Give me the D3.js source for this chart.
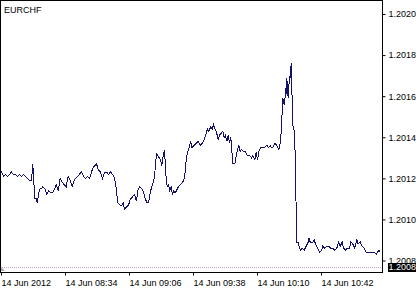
<!DOCTYPE html>
<html>
<head>
<meta charset="utf-8">
<script src="https://cdn.jsdelivr.net/npm/d3@7"></script>
<style>
  body { margin: 0; background: #fff; }
  svg text { font-family: "Liberation Sans", Arial, sans-serif; font-size: 9px; fill: #000; }
</style>
</head>
<body>
<div id="chart"></div>
<script>
// EURCHF M1 line, 14 Jun 2012

var symbol = "EURCHF";
var day = "2012-06-14";
var startTime = "08:02";

// minutes after startTime
var minutes = [
  -0.75, 0.25, 1.25, 2.25, 3.25, 4.25, 5.25, 6.25, 7.25, 8.25,
  9.25, 10.25, 11.25, 12.25, 13.25, 14.25, 15.25, 15.9, 16.9, 17.6,
  18.1, 18.9, 19.6, 20.25, 20.9, 21.9, 22.9, 23.9, 24.9, 25.9,
  26.9, 27.6, 28.6, 29.6, 30.6, 31.6, 32.6, 33.6, 34.6, 35.6,
  36.25, 37.25, 38.25, 39.25, 40.25, 41.25, 42.25, 43.25, 44.25, 45.25,
  45.9, 46.75, 47.75, 48.75, 49.75, 50.75, 51.75, 52.75, 53.75, 54.75,
  55.75, 56.75, 57.4, 58.4, 59.4, 60.4, 61.1, 61.75, 62.75, 63.75,
  64.75, 65.75, 66.75, 67.75, 68.4, 69.4, 70.4, 71.4, 72.1, 73.1,
  73.75, 74.4, 75.1, 76.1, 76.75, 77.75, 78.4, 79.1, 79.75, 80.4,
  81.1, 81.75, 82.4, 83.1, 83.75, 84.4, 85.1, 85.75, 86.4, 87.1,
  87.75, 88.75, 89.75, 90.75, 91.75, 92.4, 93.1, 94.1, 94.75, 95.5,
  96.6, 97.6, 98.6, 99.6, 100.6, 101.6, 102.6, 103.25, 103.9, 104.9,
  105.6, 106.25, 106.9, 107.6, 108.6, 109.25, 110.25, 110.9, 111.6, 112.25,
  112.9, 113.6, 114.25, 114.9, 115.6, 115.9, 116.9, 117.6, 118.25, 118.9,
  119.6, 120.25, 121.25, 122.25, 123.25, 124.25, 125.25, 125.9, 126.9, 127.6,
  128.25, 128.9, 129.9, 130.9, 131.9, 132.9, 133.9, 134.6, 135.25, 135.9,
  136.9, 137.9, 138.9, 139.6, 140.25, 140.6, 140.9, 141.25, 141.6, 141.9,
  142.25, 142.6, 142.9, 143.25, 143.6, 144.25, 144.6, 145.1, 145.4, 145.6,
  145.9, 146.6, 147.25, 147.6, 147.9, 148.6, 149.25, 149.9, 150.6, 151.6,
  152.6, 153.6, 153.9, 154.6, 155.25, 155.9, 156.6, 157.25, 158.25, 159.25,
  160.25, 160.9, 161.9, 162.9, 163.9, 164.9, 165.9, 166.9, 167.9, 168.9,
  169.6, 170.6, 171.25, 172.25, 173.25, 174.25, 174.9, 175.9, 176.9, 177.9,
  178.6, 179.6, 180.6, 181.6, 182.6, 183.6, 184.6, 185.6, 186.6, 187.6,
  188.25, 188.9, 189.6
];

var prices = [
  1.20122, 1.20123, 1.20121, 1.20122, 1.20121, 1.20122, 1.20123, 1.20122, 1.20122, 1.20121,
  1.20122, 1.20121, 1.20122, 1.20121, 1.20120, 1.20119, 1.20119, 1.20127, 1.20110, 1.20110,
  1.20108, 1.20113, 1.20115, 1.20115, 1.20116, 1.20115, 1.20112, 1.20114, 1.20113, 1.20113,
  1.20115, 1.20117, 1.20114, 1.20120, 1.20118, 1.20117, 1.20116, 1.20121, 1.20119, 1.20116,
  1.20118, 1.20120, 1.20121, 1.20122, 1.20123, 1.20121, 1.20120, 1.20121, 1.20120, 1.20123,
  1.20125, 1.20126, 1.20127, 1.20124, 1.20123, 1.20120, 1.20123, 1.20123, 1.20122, 1.20123,
  1.20122, 1.20120, 1.20117, 1.20108, 1.20107, 1.20107, 1.20108, 1.20105, 1.20106, 1.20107,
  1.20110, 1.20111, 1.20112, 1.20109, 1.20114, 1.20116, 1.20115, 1.20113, 1.20110, 1.20108,
  1.20108, 1.20112, 1.20115, 1.20118, 1.20121, 1.20132, 1.20131, 1.20130, 1.20129, 1.20126,
  1.20131, 1.20134, 1.20122, 1.20116, 1.20117, 1.20114, 1.20116, 1.20112, 1.20114, 1.20113,
  1.20114, 1.20116, 1.20117, 1.20118, 1.20120, 1.20127, 1.20132, 1.20135, 1.20138, 1.20135,
  1.20136, 1.20137, 1.20138, 1.20136, 1.20137, 1.20139, 1.20142, 1.20144, 1.20143, 1.20145,
  1.20144, 1.20146, 1.20144, 1.20143, 1.20139, 1.20141, 1.20142, 1.20143, 1.20140, 1.20141,
  1.20138, 1.20141, 1.20137, 1.20140, 1.20131, 1.20127, 1.20127, 1.20131, 1.20134, 1.20136,
  1.20133, 1.20134, 1.20133, 1.20133, 1.20131, 1.20131, 1.20130, 1.20131, 1.20129, 1.20133,
  1.20129, 1.20133, 1.20135, 1.20135, 1.20135, 1.20136, 1.20135, 1.20136, 1.20135, 1.20135,
  1.20137, 1.20136, 1.20134, 1.20137, 1.20144, 1.20153, 1.20159, 1.20157, 1.20156, 1.20157,
  1.20164, 1.20161, 1.20169, 1.20164, 1.20159, 1.20170, 1.20169, 1.20176, 1.20169, 1.20154,
  1.20146, 1.20143, 1.20128, 1.20102, 1.20089, 1.20089, 1.20086, 1.20085, 1.20086, 1.20085,
  1.20087, 1.20089, 1.20091, 1.20089, 1.20089, 1.20089, 1.20090, 1.20088, 1.20086, 1.20084,
  1.20085, 1.20087, 1.20086, 1.20087, 1.20087, 1.20086, 1.20086, 1.20085, 1.20086, 1.20089,
  1.20087, 1.20089, 1.20086, 1.20085, 1.20086, 1.20086, 1.20089, 1.20088, 1.20086, 1.20090,
  1.20088, 1.20089, 1.20087, 1.20086, 1.20084, 1.20084, 1.20084, 1.20084, 1.20084, 1.20083,
  1.20084, 1.20085, 1.20084
];

var yTicks = [1.2008, 1.2010, 1.2012, 1.2014, 1.2016, 1.2018, 1.2020];
var xTickTimes = ["08:02", "08:34", "09:06", "09:38", "10:10", "10:42"];
var xTickLabels = ["14 Jun 2012", "14 Jun 08:34", "14 Jun 09:06", "14 Jun 09:38", "14 Jun 10:10", "14 Jun 10:42"];
var bidPrice = 1.20077;
var endTime = "11:12";

var svgWidth = 416;
var svgHeight = 290;
var plotW = 382;   // right border x
var plotH = 272;   // bottom border y

var parseTime = d3.timeParse("%Y-%m-%d %H:%M");
var t0 = parseTime(day + " " + startTime);

var quotes = minutes.map(function(m, i) {
  return { t: new Date(t0.getTime() + m * 60000), p: prices[i] };
});

var svg = d3.select("#chart")
  .append("svg")
  .attr("width", svgWidth)
  .attr("height", svgHeight);

svg.append("rect")
  .attr("width", svgWidth)
  .attr("height", svgHeight)
  .attr("fill", "#fff");

// scales: 2px per minute, 0.0002 every ~41px
var xScale = d3.scaleTime()
  .domain([t0, parseTime(day + " " + endTime)])
  .range([1, 381]);

var yScale = d3.scaleLinear()
  .domain([1.2008, 1.2020])
  .range([260.5, 14]);

svg.append("clipPath")
  .attr("id", "plotclip")
  .append("rect")
  .attr("x", 1).attr("y", 1)
  .attr("width", plotW - 1).attr("height", plotH - 1);

var plot = svg.append("g").attr("clip-path", "url(#plotclip)");

// bid line
plot.append("line")
  .attr("x1", 0).attr("x2", plotW)
  .attr("y1", Math.round(yScale(bidPrice)) + 0.5)
  .attr("y2", Math.round(yScale(bidPrice)) + 0.5)
  .attr("stroke", "#c8a6d0")
  .attr("stroke-dasharray", "1,1");

// price line
var line = d3.line()
  .x(d => xScale(d.t))
  .y(d => yScale(d.p));

plot.append("path")
  .datum(quotes)
  .attr("d", line)
  .attr("fill", "none")
  .attr("stroke", "#12126e")
  .attr("stroke-width", 1)
  .attr("shape-rendering", "crispEdges");

// little shift marker bottom left
svg.append("path")
  .attr("d", "M1,271 L5,271 L1,267 Z")
  .attr("fill", "#a8a8a8");

// frame
svg.append("rect")
  .attr("x", 0.5).attr("y", 0.5)
  .attr("width", plotW).attr("height", plotH)
  .attr("fill", "none")
  .attr("stroke", "#000");

// axes
var rightAxis = d3.axisRight(yScale)
  .tickValues(yTicks)
  .tickSize(3)
  .tickPadding(3)
  .tickFormat(d => d.toFixed(4));

var gy = svg.append("g")
  .attr("transform", `translate(${plotW + 0.5}, 0)`)
  .call(rightAxis);
gy.select(".domain").remove();
gy.selectAll("text").attr("font-family", null).attr("font-size", null);

var bottomAxis = d3.axisBottom(xScale)
  .tickValues(xTickTimes.map(s => parseTime(day + " " + s)))
  .tickSize(3)
  .tickPadding(4)
  .tickFormat((d, i) => xTickLabels[i]);

var gx = svg.append("g")
  .attr("transform", `translate(0, ${plotH + 0.5})`)
  .call(bottomAxis);
gx.select(".domain").remove();
gx.selectAll("text")
  .attr("text-anchor", "start")
  .attr("font-family", null).attr("font-size", null);

// bid label box
var by = Math.round(yScale(bidPrice));
svg.append("rect")
  .attr("x", plotW + 6).attr("y", by - 4)
  .attr("width", svgWidth - plotW - 6).attr("height", 9)
  .attr("fill", "#000");

svg.append("text")
  .attr("x", plotW + 6.5)
  .attr("y", by)
  .attr("dy", "0.36em")
  .style("fill", "#fff")
  .text(bidPrice.toFixed(4));

// symbol
svg.append("text")
  .attr("x", 4)
  .attr("y", 12.5)
  .text(symbol);
</script>
</body>
</html>
